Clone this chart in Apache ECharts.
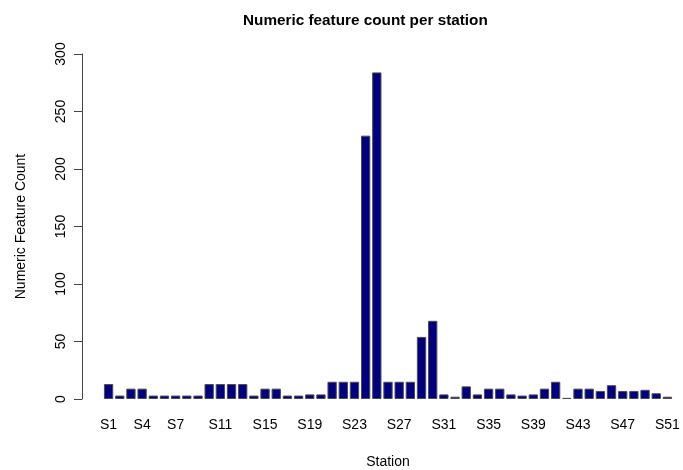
<!DOCTYPE html>
<html>
<head>
<meta charset="utf-8">
<script src="https://cdn.jsdelivr.net/npm/echarts@6/dist/echarts.min.js"></script>
<style>
html, body { margin: 0; padding: 0; background: #fff; }
#chart { width: 683px; height: 470px; }
</style>
</head>
<body>
<div id="chart"></div>
<script>
// stations S1..S51
const stations = [];
for (let i = 1; i <= 51; i++) stations.push('S' + i);

// numeric feature count per station
const counts = [
    13, 3, 9, 9, 3, 3, 3, 3, 3, 13,
    13, 13, 13, 3, 9, 9, 3, 3, 4, 4,
    15, 15, 15, 229, 284, 15, 15, 15, 54, 68,
    4, 2, 11, 4, 9, 9, 4, 3, 4, 9,
    15, 1, 9, 9, 7, 12, 7, 7, 8, 5,
    2
];

// only these names are printed (R drops the overlapping ones)
const shownLabels = ['S1', 'S4', 'S7', 'S11', 'S15', 'S19', 'S23', 'S27', 'S31', 'S35', 'S39', 'S43', 'S47', 'S51'];

const yTicks = [0, 50, 100, 150, 200, 250, 300];

const font = 'Arial, "Liberation Sans", sans-serif';

let chart = echarts.init(document.getElementById('chart'));

let option = {
    animation: false,
    title: {
        text: 'Numeric feature count per station',
        left: 238,
        top: 8,
        textStyle: {fontFamily: font, fontSize: 15.3, fontWeight: 'bold', color: '#000'}
    },
    grid: {
        left: 103,
        right: 10,
        top: 54,
        bottom: 71,
        outerBoundsMode: 'none' // v6 would otherwise shrink the grid to fit the labels
    },
    xAxis: {
        type: 'category',
        data: stations,
        name: 'Station',
        nameLocation: 'middle',
        nameGap: 56,
        nameTextStyle: {fontFamily: font, fontSize: 14, color: '#000'},
        axisLine: {show: false},
        axisTick: {show: false},
        axisLabel: {
            interval: function (index, value) {
                return shownLabels.indexOf(value) >= 0;
            },
            margin: 19,
            fontFamily: font,
            fontSize: 14,
            color: '#000'
        }
    },
    yAxis: {
        type: 'value',
        min: yTicks[0],
        max: yTicks[yTicks.length - 1],
        interval: 50,
        offset: 21,
        name: 'Numeric Feature Count',
        nameLocation: 'middle',
        nameGap: 54,
        nameTextStyle: {fontFamily: font, fontSize: 14, color: '#000'},
        splitLine: {show: false},
        axisLine: {show: true, lineStyle: {color: '#444', width: 1}},
        axisTick: {show: true, length: 8, lineStyle: {color: '#444'}},
        axisLabel: {
            rotate: 90,
            margin: 14,
            fontFamily: font,
            fontSize: 14,
            color: '#000'
        }
    },
    series: [
        {
            type: 'bar',
            data: counts,
            barCategoryGap: '16.7%',
            itemStyle: {
                color: '#000080',
                borderColor: '#4d4d4d',
                borderWidth: 1
            }
        }
    ]
};

chart.setOption(option);
</script>
</body>
</html>
